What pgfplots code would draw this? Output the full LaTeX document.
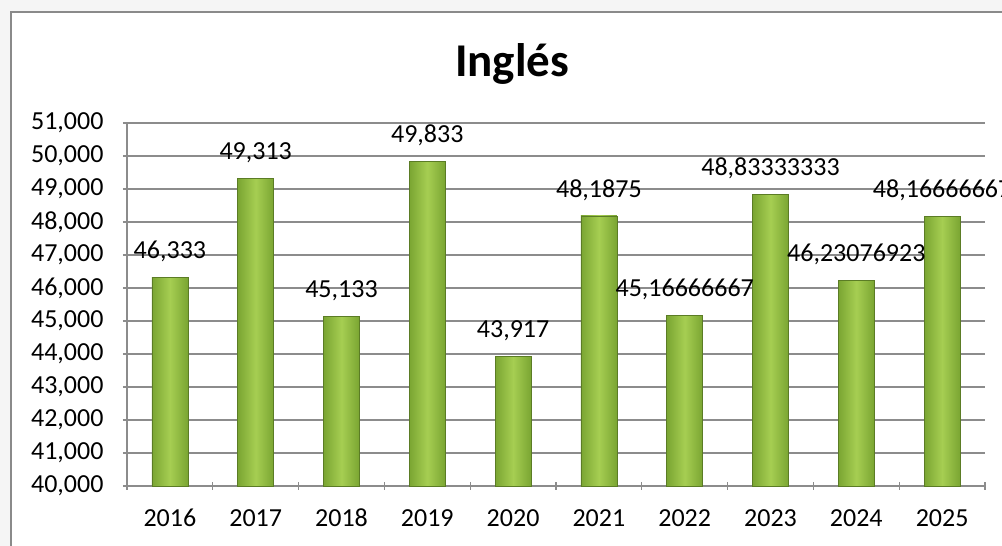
\documentclass[border=0pt]{standalone}
\usepackage{fontspec}
\setmainfont{Carlito}
\usepackage{pgfplots}
\pgfplotsset{compat=1.18}
\definecolor{gridgray}{HTML}{8C8C8C}
\definecolor{framegray}{HTML}{8A8A8A}
\definecolor{bardark}{HTML}{7AA532}
\definecolor{barmid}{HTML}{A6CE52}
\begin{document}
\begin{tikzpicture}
\useasboundingbox (0,0) rectangle (1002pt,546pt);
\clip (0,0) rectangle (1002pt,546pt);
\fill[black!4] (0,0) rectangle (1002pt,546pt);
\fill[white] (11pt,-10pt) rectangle (1010pt,534pt);
\draw[framegray, line width=1.2pt] (11pt,-10pt) -- (11pt,534pt) -- (1010pt,534pt);
\node[anchor=base, font=\fontsize{47}{56}\selectfont\bfseries] at (512pt,469pt) {Inglés};
\begin{axis}[
  at={(127pt,60pt)}, anchor=south west,
  scale only axis, width=858pt, height=363pt,
  xmin=-0.5, xmax=9.5, ymin=40, ymax=51,
  ytick={40,41,...,51},
  xtick={0,...,9},
  xticklabels={2016,2017,2018,2019,2020,2021,2022,2023,2024,2025},
  minor xtick={-0.5,0.5,...,9.5},
  major x tick style={draw=none},
  minor x tick style={gridgray, line width=1.2pt},
  y tick style={gridgray, line width=1.2pt},
  tick align=outside,
  major tick length=8pt, minor tick length=8pt,
  axis x line=bottom, axis y line=left,
  axis line style={-, gridgray, line width=1.2pt},
  ymajorgrids, major grid style={gridgray, line width=1.5pt},
  y tick label style={/pgf/number format/fixed, /pgf/number format/fixed zerofill, /pgf/number format/precision=3, /pgf/number format/use comma, /pgf/number format/1000 sep={}},
  /pgf/number format/assume math mode=true,
  ticklabel style={font=\fontsize{26}{31}\selectfont},
  xticklabel style={text height=17pt, text depth=0pt, yshift=-16pt},
  yticklabel style={xshift=-16pt},
  nodes near coords,
  point meta=explicit symbolic,
  every node near coord/.append style={font=\fontsize{26}{31}\selectfont, anchor=center, yshift=26pt, text=black},
  clip=false,
  mybar/.style={ybar, bar width=36pt, draw=bardark!75!black, line width=0.5pt,
    left color=bardark, right color=bardark, middle color=barmid},
]
\addplot[mybar] coordinates {(0,46.333) [46,333]};
\addplot[mybar] coordinates {(1,49.313) [49,313]};
\addplot[mybar] coordinates {(2,45.133) [45,133]};
\addplot[mybar] coordinates {(3,49.833) [49,833]};
\addplot[mybar] coordinates {(4,43.917) [43,917]};
\addplot[mybar] coordinates {(5,48.1875) [48,1875]};
\addplot[mybar] coordinates {(6,45.16666667) [45,16666667]};
\addplot[mybar] coordinates {(7,48.83333333) [48,83333333]};
\addplot[mybar] coordinates {(8,46.23076923) [46,23076923]};
\addplot[mybar] coordinates {(9,48.16666667) [48,16666667]};
\end{axis}
\end{tikzpicture}
\end{document}
